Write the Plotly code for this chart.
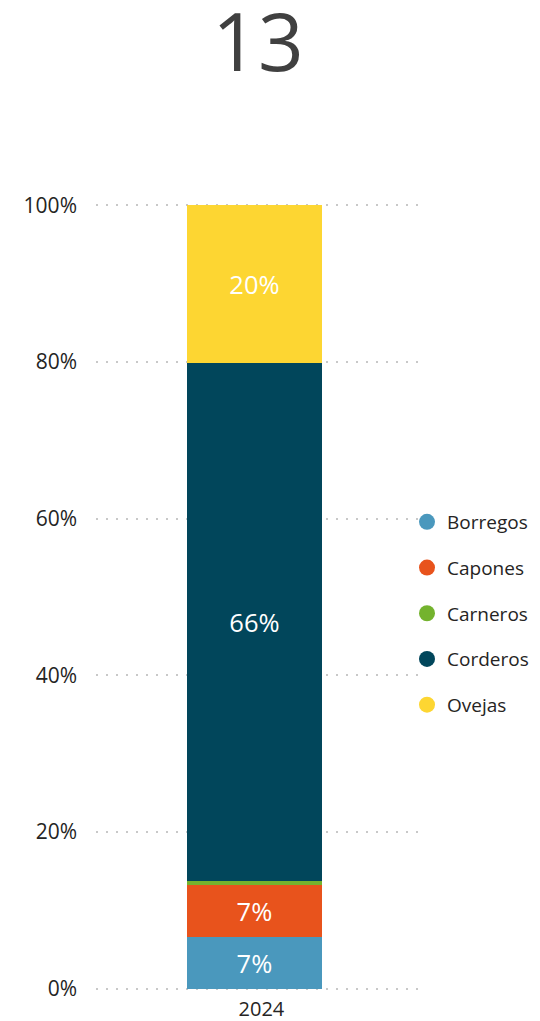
import plotly.graph_objects as go

categories = ["2024"]
series_names = ["Borregos", "Capones", "Carneros", "Corderos", "Ovejas"]
borregos = [6.6]
capones = [6.6]
carneros = [0.5]
corderos = [66.2]
ovejas = [20.1]
series_values = [borregos, capones, carneros, corderos, ovejas]
colors = ["#4A98BD", "#E8531C", "#74B32E", "#01465B", "#FDD632"]
show_label = [True, True, False, True, True]
title_text = "13"
y_ticks = [0, 20, 40, 60, 80, 100]
y_tick_labels = ["0%", "20%", "40%", "60%", "80%", "100%"]

FONT = "Open Sans"
W, H = 532, 1013  # page adds an 8px body margin

fig = go.Figure()
for name, vals, col, lab in zip(series_names, series_values, colors, show_label):
    fig.add_trace(go.Bar(
        x=categories, y=vals, name=name, marker=dict(color=col, line=dict(width=0)),
        width=0.4167,
        text=[f"{round(v):.0f}%" for v in vals] if lab else None,
        textposition="inside", insidetextanchor="middle",
        textfont=dict(color="white", size=25.5, family=FONT),
        showlegend=False, hoverinfo="skip",
    ))
# legend entries with circular markers
for name, col in zip(series_names, colors):
    fig.add_trace(go.Scatter(
        x=[None], y=[None], mode="markers", name=name, legendgroup=name,
        marker=dict(color=col, size=20, symbol="circle"), showlegend=True,
    ))

fig.update_layout(
    barmode="stack",
    width=W, height=H,
    margin=dict(l=88, r=120, t=194.6, b=29.65, autoexpand=False),
    paper_bgcolor="white", plot_bgcolor="white",
    font=dict(family=FONT, color="#252423", size=20),
    uniformtext=dict(mode="hide", minsize=12),
    title=dict(text=title_text, font=dict(size=80, color="#404040", family=FONT),
               x=0.5, xref="paper", xanchor="center",
               y=1 - 35 / H, yref="container", yanchor="middle"),
    legend=dict(x=399 / W, xanchor="left", y=1 - 495 / H, yanchor="top",
                xref="container", yref="container",
                font=dict(size=19, color="#252423", family=FONT),
                traceorder="grouped", tracegroupgap=18,
                itemsizing="trace", bgcolor="rgba(0,0,0,0)"),
    xaxis=dict(showgrid=False, showline=False, ticks="", tickfont=dict(size=20),
               range=[-0.489, 0.511], automargin=False,
               ticklabelshift=7, ticklabelstandoff=4),
    yaxis=dict(range=[-0.3, 100.3], tickvals=y_ticks, ticktext=y_tick_labels,
               showgrid=True, gridcolor="#C8C8C8", griddash="2px,8px", gridwidth=2,
               zeroline=False, showline=False, ticks="", ticklabelstandoff=18,
               tickfont=dict(size=21), automargin=False),
)

fig.write_html("out.html")
